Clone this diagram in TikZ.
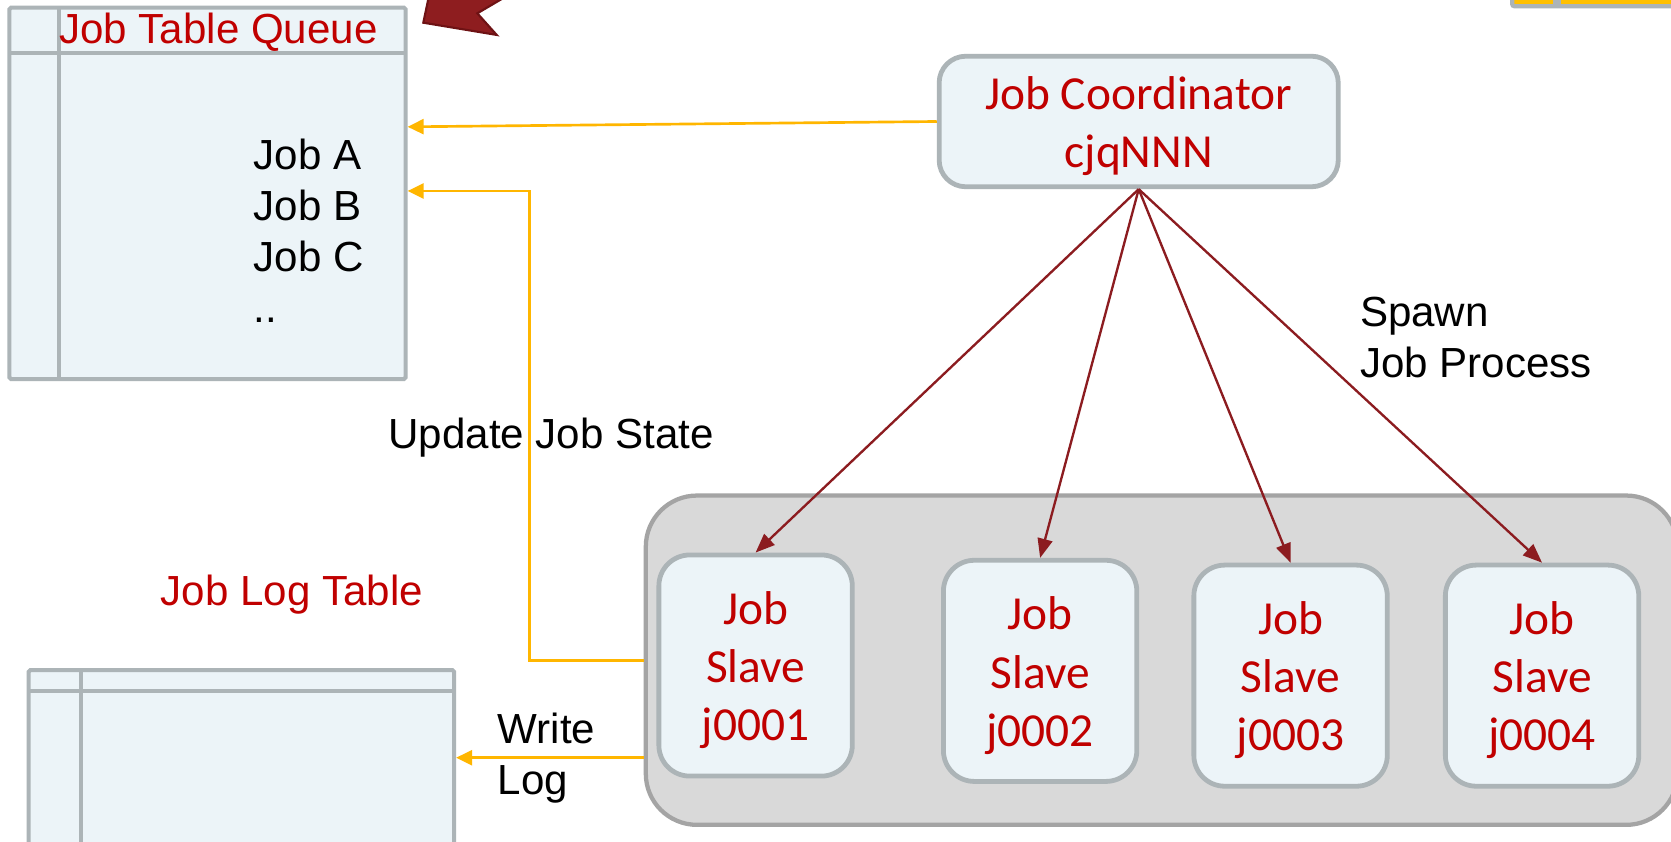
\documentclass[tikz,border=0pt]{standalone}
\usepackage{fontspec}
\setmainfont{Liberation Sans}
\newfontfamily\calibfont{Carlito}
\usetikzlibrary{arrows.meta}

\definecolor{txtred}{RGB}{192,0,0}
\definecolor{boxfill}{RGB}{236,244,248}
\definecolor{boxline}{RGB}{172,180,183}
\definecolor{poolfill}{RGB}{217,217,217}
\definecolor{poolline}{RGB}{164,164,164}
\definecolor{flowyellow}{RGB}{255,182,0}
\definecolor{spawnred}{RGB}{140,28,32}
\definecolor{cellyellow}{RGB}{255,192,0}
\definecolor{bannerred}{RGB}{142,29,31}
\definecolor{bannerdark}{RGB}{110,18,20}

\begin{document}
\begin{tikzpicture}[x=1pt,y=-1pt,
  lbl/.style={font=\fontsize{39.5}{48}\selectfont, inner sep=0pt, text=black},
  redlbl/.style={lbl, text=txtred},
  boxtxt/.style={font=\calibfont\fontsize{44.5}{54.5}\selectfont, text=txtred, align=center, inner sep=0pt},
  tablebox/.style={draw=boxline, fill=boxfill, line width=3.75pt, rounded corners=1.5pt, inner sep=0pt},
  gridline/.style={draw=boxline, line width=3.75pt},
  poolbox/.style={draw=poolline, fill=poolfill, line width=4pt, rounded corners=48pt, inner sep=0pt},
  procbox/.style={draw=boxline, fill=boxfill, line width=4.5pt, rounded corners=29pt, inner sep=0pt},
  flowarrow/.style={draw=flowyellow, line width=2.5pt, -{Triangle[length=15pt,width=14pt]}},
  spawnarrow/.style={draw=spawnred, line width=2.2pt, -{Triangle[length=18pt,width=14pt]}}
]
\useasboundingbox (0,0) rectangle (1568,790);
\clip (0,0) rectangle (1568,790);
\fill[white] (0,0) rectangle (1568,790);

% block arrow entering from the top edge
\filldraw[fill=bannerred, draw=bannerdark, line width=2pt, line join=miter]
  (402.8,-5) -- (397.2,21.3) -- (466.1,32.8) -- (447.9,12.5) -- (477.7,-5) -- cycle;

% table peeking in at the top right corner
\draw[draw=boxline, fill=cellyellow, line width=4pt, rounded corners=2pt] (1419,-30) rectangle (1590,5.8);
\draw[draw=boxline, line width=8pt] (1461,-30) -- (1461,5.8);

% job table queue
\node[tablebox, minimum width=371.75pt, minimum height=348.5pt] (queue) at (194.75,181.4) {};
\draw[gridline] (8.9,50) -- (380.6,50);
\draw[gridline] (55.4,7.2) -- (55.4,355.6);
\node[redlbl, anchor=base] (queuetitle) at (205,40.7) {Job Table Queue};
\node[lbl, anchor=west, align=left] (joblist) at (237.8,216.6) {Job A\\Job B\\Job C\\..};

% job log table
\node[tablebox, minimum width=399.25pt, minimum height=169.25pt] (logt) at (226.5,713.5) {};
\draw[gridline] (26.9,648) -- (426.1,648);
\draw[gridline] (76,628.9) -- (76,798);
\node[redlbl, anchor=base] (loglbl) at (274,568) {Job Log Table};

% slave pool
\node[poolbox, minimum width=968pt, minimum height=309pt] (pool) at (1090,619.5) {};

\node[procbox, minimum width=181.5pt, minimum height=207.5pt] (s1) at (709,624.5) {};
\node[procbox, minimum width=181.5pt, minimum height=207.5pt] (s2) at (976,629.5) {};
\node[procbox, minimum width=181.5pt, minimum height=207.5pt] (s3) at (1211,634) {};
\node[procbox, minimum width=181.5pt, minimum height=207.5pt] (s4) at (1447,634) {};
\node[boxtxt] (s1txt) at ([yshift=-4.5pt]s1.center) {Job\\Slave\\j0001};
\node[boxtxt] (s2txt) at ([yshift=-4.5pt]s2.center) {Job\\Slave\\j0002};
\node[boxtxt] (s3txt) at ([yshift=-4.5pt]s3.center) {Job\\Slave\\j0003};
\node[boxtxt] (s4txt) at ([yshift=-4.5pt]s4.center) {Job\\Slave\\j0004};

% coordinator
\node[procbox, rounded corners=25pt, minimum width=374.5pt, minimum height=122.5pt] (coord) at (1068.5,114) {};
\node[boxtxt] (coordtxt) at ([yshift=-4.25pt]coord.center) {Job Coordinator\\cjqNNN};

% spawning the slaves
\foreach \s in {s1,s2,s3,s4}
  \draw[spawnarrow] (coord.south) -- (\s.north);

% labels
\node[lbl, anchor=base west] (updlbl) at (364.4,420.7) {Update Job State};
\node[lbl, anchor=west, align=left] (spawnlbl) at (1276,316.5) {Spawn\\Job Process};
\node[lbl, anchor=west, align=left] (writelbl) at (467,711) {Write\\Log};

% data flows
\coordinate (ya) at (0,119);
\coordinate (yb) at (0,179.2);
\coordinate (yw) at (0,711);
\draw[flowarrow] (coord.west) -- (queue.east |- ya);
\draw[flowarrow] (pool.west) -- ++(-107.3,0) |- (queue.east |- yb);
\draw[flowarrow] (pool.west |- yw) -- (logt.east |- yw);
\end{tikzpicture}
\end{document}
